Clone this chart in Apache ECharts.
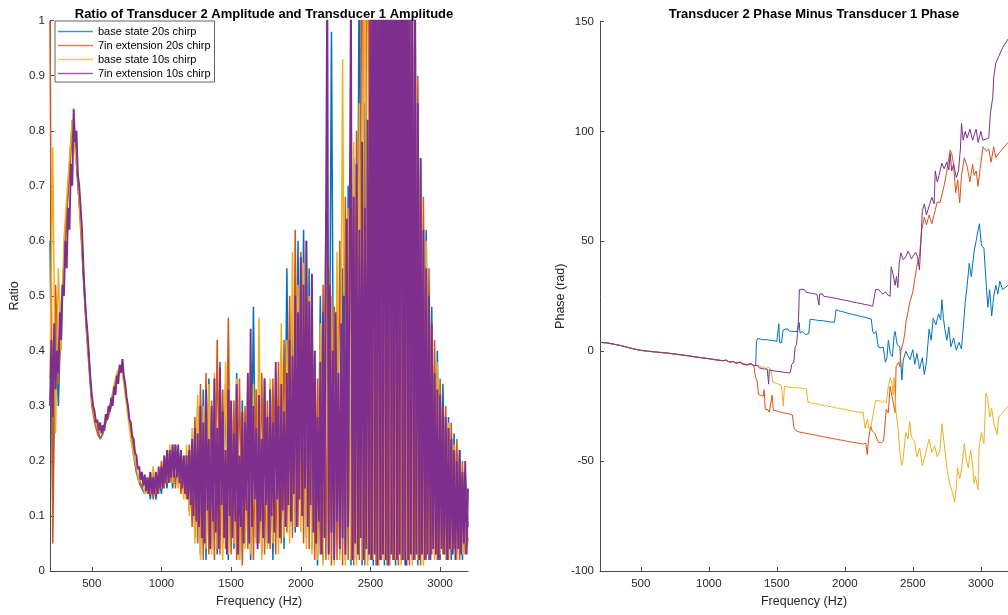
<!DOCTYPE html>
<html>
<head>
<meta charset="utf-8">
<script src="https://cdn.jsdelivr.net/npm/echarts@6/dist/echarts.min.js"></script>
<style>html,body{margin:0;padding:0;background:#fff;}#c{width:1008px;height:615px;}</style>
</head>
<body>
<div id="c"></div>
<script>
const seriesNames = ['base state 20s chirp', '7in extension 20s chirp', 'base state 10s chirp', '7in extension 10s chirp'];
const xTickValues = [500, 1000, 1500, 2000, 2500, 3000];

// Amplitude ratio samples: frequency grid start and spacing (Hz)
const ampStart = 200;
const ampStepCoarse = 20;
const ampStepFine = 10;

const ratioBase20 = [
0.60,0.12,0.45,0.30,0.48,0.56,0.64,0.74,0.82,0.78,
0.70,0.64,0.53,0.45,0.38,0.31,0.28,0.26,0.24,0.25,
0.27,0.29,0.31,0.33,0.35,0.37,0.37,0.33,0.29,0.25,
0.21,0.18,0.16,0.15,0.14,0.17,0.13,0.18,0.13,0.17,
0.14,0.20,0.15,0.22,0.15,0.23,0.16,0.22,0.14,0.21,
0.11,0.24,0.06,0.30,0.03,0.33,0.02,0.35,0.04,0.32,
0.03,0.38,0.05,0.34,0.02,0.30,0.04,0.36,0.02,0.31,
0.05,0.34,0.02,0.48,0.06,0.30,0.03,0.35,0.05,0.33,
0.02,0.36,0.06,0.40,0.04,0.55,0.08,0.45,0.07,0.60,
0.10,0.62,0.06,0.55,0.04,0.40,0.01,0.50,0.02,0.65,
0.03,0.98,0.02,0.50,0.03,0.55,0.02,0.70,0.01,0.75,
0.02,1.20,0.01,0.85,0.02,1.30,0.01,1.40,0.02,1.50,
0.01,1.60,0.02,1.40,0.01,1.50,0.02,1.30,0.01,1.40,
0.02,1.10,0.01,0.75,0.03,0.62,0.02,0.48,0.03,0.40,
0.02,0.34,0.04,0.28,0.02,0.25,0.03,0.22,0.02,0.18,
0.08];

const ratioExt20 = [
1.00,0.05,0.52,0.34,0.46,0.55,0.66,0.72,0.80,0.77,
0.71,0.62,0.54,0.44,0.37,0.30,0.27,0.25,0.24,0.25,
0.27,0.28,0.30,0.33,0.35,0.37,0.36,0.33,0.29,0.25,
0.22,0.18,0.17,0.15,0.17,0.14,0.18,0.13,0.18,0.14,
0.20,0.15,0.22,0.16,0.23,0.15,0.22,0.14,0.21,0.13,
0.23,0.08,0.28,0.05,0.34,0.02,0.36,0.03,0.31,0.02,
0.42,0.03,0.33,0.04,0.46,0.03,0.31,0.02,0.35,0.01,
0.30,0.04,0.38,0.02,0.33,0.05,0.36,0.03,0.31,0.04,
0.35,0.03,0.38,0.05,0.42,0.07,0.50,0.06,0.62,0.08,
0.58,0.05,0.60,0.04,0.48,0.02,0.35,0.03,0.52,0.02,
0.55,0.01,0.48,0.02,0.60,0.01,0.68,0.02,0.72,0.01,
0.80,0.02,1.40,0.01,1.50,0.02,1.30,0.01,1.60,0.02,
1.40,0.01,1.50,0.02,1.60,0.01,1.40,0.02,1.50,0.01,
0.99,0.02,0.90,0.01,0.68,0.02,0.55,0.03,0.42,0.02,
0.35,0.03,0.30,0.02,0.27,0.04,0.24,0.02,0.20,0.03,
0.06];

const ratioBase10 = [
0.35,0.77,0.25,0.55,0.40,0.60,0.68,0.75,0.82,0.76,
0.72,0.63,0.55,0.45,0.38,0.31,0.28,0.26,0.25,0.26,
0.28,0.29,0.31,0.34,0.36,0.37,0.36,0.32,0.28,0.24,
0.21,0.19,0.16,0.18,0.14,0.17,0.14,0.19,0.14,0.18,
0.15,0.21,0.16,0.23,0.16,0.21,0.15,0.22,0.13,0.23,
0.10,0.26,0.05,0.32,0.02,0.30,0.04,0.34,0.03,0.36,
0.04,0.32,0.02,0.38,0.03,0.30,0.05,0.35,0.02,0.29,
0.04,0.36,0.03,0.34,0.05,0.46,0.02,0.32,0.04,0.35,
0.05,0.33,0.03,0.45,0.06,0.42,0.05,0.58,0.08,0.52,
0.07,0.56,0.04,0.50,0.03,0.30,0.02,0.45,0.01,0.62,
0.02,0.50,0.01,0.58,0.02,0.93,0.01,0.66,0.02,0.78,
0.01,0.85,0.02,1.30,0.01,1.50,0.02,1.40,0.01,1.60,
0.02,1.50,0.01,1.40,0.02,1.60,0.01,1.50,0.02,1.30,
0.01,0.95,0.02,0.72,0.01,0.60,0.03,0.45,0.02,0.38,
0.03,0.30,0.02,0.27,0.04,0.23,0.02,0.20,0.03,0.16,
0.05];

const ratioExt10 = [
0.30,0.42,0.28,0.45,0.33,0.40,0.36,0.47,0.42,0.52,
0.50,0.60,0.55,0.66,0.62,0.74,0.70,0.84,0.78,0.80,
0.72,0.70,0.66,0.62,0.55,0.50,0.46,0.43,0.39,0.35,
0.32,0.30,0.29,0.27,0.275,0.255,0.27,0.25,0.265,0.255,
0.285,0.275,0.30,0.29,0.315,0.30,0.335,0.32,0.355,0.34,
0.375,0.36,0.385,0.355,0.34,0.315,0.30,0.275,0.27,0.245,
0.24,0.215,0.21,0.185,0.19,0.165,0.18,0.155,0.175,0.145,
0.17,0.14,0.18,0.14,0.17,0.14,0.18,0.14,0.19,0.15,
0.19,0.15,0.21,0.16,0.22,0.16,0.22,0.17,0.23,0.17,
0.23,0.17,0.23,0.16,0.22,0.15,0.21,0.14,0.21,0.13,
0.22,0.12,0.24,0.10,0.26,0.09,0.25,0.08,0.30,0.06,
0.27,0.05,0.33,0.11,0.24,0.04,0.30,0.09,0.35,0.07,
0.26,0.04,0.37,0.12,0.29,0.06,0.22,0.03,0.33,0.10,
0.31,0.06,0.25,0.09,0.34,0.03,0.21,0.08,0.29,0.05,
0.27,0.11,0.36,0.05,0.44,0.08,0.30,0.13,0.26,0.04,
0.32,0.09,0.24,0.06,0.35,0.12,0.28,0.05,0.33,0.10,
0.27,0.07,0.38,0.13,0.30,0.06,0.34,0.11,0.29,0.08,
0.36,0.12,0.42,0.09,0.39,0.14,0.50,0.08,0.47,0.13,
0.57,0.10,0.52,0.15,0.60,0.08,0.49,0.12,0.54,0.07,
0.40,0.05,0.28,0.09,0.38,0.03,0.47,0.06,0.58,1.10,
0.03,0.52,0.07,0.40,0.02,0.47,0.09,0.36,0.04,0.45,
0.06,0.50,0.03,0.64,0.08,0.58,1.05,0.02,0.68,0.05,
0.74,0.03,0.62,0.06,0.78,0.02,0.66,0.04,0.82,0.03,
1.30,0.02,1.40,0.03,1.50,0.01,1.30,0.02,1.60,0.03,
1.50,0.02,1.40,0.01,1.60,0.03,1.50,0.02,1.40,0.02,
1.50,0.03,1.60,0.02,1.40,0.01,1.50,0.02,1.30,0.03,
1.20,0.02,1.05,0.03,0.85,0.02,0.75,0.03,0.62,0.02,
0.55,0.03,0.50,0.02,0.45,0.04,0.36,0.03,0.33,0.02,
0.32,0.04,0.30,0.03,0.28,0.02,0.26,0.04,0.24,0.03,
0.22,0.02,0.20,0.04,0.22,0.03,0.18,0.05,0.20,0.03,
0.15];

// Phase difference [Hz, rad]
const phaseShared = [[200,4],[250,3.8],[300,3.2],[350,2.6],[400,1.8],[450,1.0],[500,0.4],[550,0],[600,-0.3],[650,-0.6],[700,-0.9],[750,-1.3],[800,-1.7],[850,-2.1],[900,-2.6],[950,-3.0],[1000,-3.4],[1050,-3.9],[1100,-4.3],[1130,-4.1],[1150,-4.9],[1180,-4.7],[1200,-5.4],[1230,-5.0],[1250,-5.8],[1280,-6.2],[1310,-5.7],[1330,-6.5]];

const phaseBase20 = [[1345,-6.3],[1350,4.5],[1360,5.8],[1370,4.9],[1380,5.5],[1390,4.6],[1400,5.2],[1410,4.4],[1420,5.3],[1430,4.7],[1440,5.1],[1450,4.3],[1460,4.9],[1470,4.2],[1480,4.8],[1490,4.0],[1500,4.4],[1505,3.5],[1515,12.5],[1520,4],[1535,3.8],[1545,9.5],[1560,10],[1570,9.3],[1580,10.2],[1590,9.2],[1600,9.9],[1610,9.1],[1620,9.8],[1630,8.9],[1640,9.4],[1650,9],[1660,9.6],[1665,13],[1670,8.5],[1680,8.2],[1690,8.8],[1700,8],[1710,7.6],[1720,7.5],[1735,8],[1745,14.5],[1755,15.2],[1765,14.4],[1775,15.1],[1785,14.2],[1795,14.8],[1805,14],[1815,14.6],[1825,13.9],[1835,14.5],[1845,13.8],[1855,14.3],[1865,13.6],[1875,14.1],[1885,13.4],[1895,13.9],[1905,13.2],[1915,13.7],[1925,13.2],[1935,18.8],[1945,19.3],[1955,18.4],[1965,18.9],[1975,18.1],[1985,18.6],[1995,17.8],[2005,18.2],[2015,17.4],[2025,17.9],[2035,17.1],[2045,17.6],[2055,16.8],[2065,17.3],[2075,16.5],[2085,17.1],[2095,16.2],[2105,16.8],[2115,15.9],[2125,16.5],[2135,15.6],[2145,16.4],[2155,15.3],[2165,16.1],[2175,14.9],[2185,15.5],[2195,14.6],[2205,9],[2215,8],[2230,9],[2245,2],[2265,1.5],[2283,1.8],[2298,-5],[2310,-3],[2320,5],[2335,-1],[2350,-2.4],[2362,7],[2370,9],[2385,3],[2405,2],[2420,-13],[2430,-4],[2449,0],[2463,-2],[2480,-3.8],[2500,0.7],[2515,-6],[2530,-1],[2550,-8],[2570,-3],[2585,-10.6],[2600,-5],[2620,10],[2635,5],[2650,15],[2670,12],[2690,17],[2705,14.3],[2714,23.4],[2725,15],[2736,10],[2750,5],[2765,11],[2780,2],[2800,6],[2820,0.5],[2840,4],[2858,1],[2870,10],[2885,22],[2900,30],[2915,40],[2930,34],[2950,45],[2965,50],[2980,55],[2990,58],[3005,48],[3023,47],[3040,30],[3052,20],[3065,28],[3080,16],[3095,25],[3110,30],[3125,26],[3140,32],[3160,28],[3200,30]];

const phaseExt20 = [[1340,-6.6],[1345,-12],[1356,-13.8],[1365,-19.7],[1375,-19],[1385,-20.1],[1395,-19.3],[1400,-20.5],[1407,-17.5],[1415,-26.5],[1425,-27.2],[1435,-26.6],[1445,-27.8],[1455,-28],[1465,-20],[1475,-27],[1493,-27],[1503,-26.3],[1513,-27.5],[1523,-26.8],[1533,-27.8],[1543,-27],[1553,-28.1],[1563,-27.3],[1573,-28.3],[1583,-27.6],[1593,-28.6],[1603,-27.9],[1615,-29],[1625,-34.7],[1637,-36],[1647,-35.4],[1657,-36.6],[1667,-35.8],[1677,-36.9],[1687,-36.1],[1697,-37.1],[1707,-36.4],[1717,-37.4],[1727,-36.6],[1737,-37.6],[1747,-36.9],[1757,-37.9],[1767,-37.1],[1777,-38.1],[1787,-37.4],[1797,-38.4],[1807,-37.7],[1817,-38.6],[1827,-37.9],[1837,-38.9],[1847,-38.2],[1857,-39.1],[1867,-38.4],[1877,-39.3],[1887,-38.6],[1897,-39.6],[1907,-38.9],[1917,-39.8],[1927,-39.1],[1937,-40],[1947,-39.4],[1957,-40.3],[1967,-39.6],[1977,-40.5],[1987,-39.8],[1997,-40.7],[2007,-40.1],[2017,-41],[2027,-40.3],[2037,-41.2],[2047,-40.5],[2057,-41.4],[2067,-40.8],[2077,-41.6],[2087,-41],[2097,-41.8],[2107,-41.2],[2117,-42],[2127,-41.4],[2137,-42.2],[2147,-41.6],[2155,-41.8],[2165,-47],[2175,-40],[2190,-34],[2200,-36],[2211,-35.5],[2222,-37.5],[2233,-37],[2247,-41.5],[2260,-40.6],[2270,-41.6],[2285,-40.8],[2298,-41.5],[2305,-26.5],[2320,-28],[2333,-16],[2345,-20],[2355,-23],[2370,-28],[2377,-7],[2395,-5],[2405,-7],[2412,0],[2430,4],[2441,8],[2449,13],[2465,18],[2477,22],[2500,27],[2515,33],[2535,40.5],[2549,43],[2565,55],[2585,61],[2600,57.5],[2620,62],[2640,58],[2664,64],[2680,68],[2700,67.5],[2729,75],[2745,80],[2760,86],[2775,91.5],[2786,90],[2800,85],[2815,72],[2830,78],[2845,67.5],[2858,80],[2879,88],[2900,84],[2920,77],[2940,85],[2951,80],[2966,82],[2980,75],[2995,83],[3016,93],[3040,91],[3059,92],[3075,86],[3095,93],[3110,88],[3131,90],[3160,92],[3200,95]];

const phaseBase10 = [[1350,-6.4],[1360,-7.2],[1375,-6.6],[1390,-7.6],[1405,-6.9],[1420,-7.9],[1440,-7.3],[1455,-8.3],[1465,-8],[1472,-14],[1493,-14.5],[1503,-14.2],[1513,-15],[1523,-14.6],[1533,-15.4],[1540,-15.5],[1548,-25],[1556,-16],[1566,-15.7],[1576,-16.3],[1586,-15.9],[1596,-16.4],[1606,-16],[1616,-16.5],[1626,-16.1],[1636,-16.6],[1646,-16.2],[1656,-16.7],[1666,-16.3],[1676,-16.8],[1686,-16.4],[1696,-16.9],[1706,-16.6],[1716,-17.1],[1723,-17],[1730,-23.3],[1745,-23.1],[1760,-23.9],[1775,-23.6],[1790,-24.1],[1805,-24.0],[1820,-24.6],[1835,-24.2],[1850,-25],[1865,-24.7],[1880,-25.2],[1895,-25.1],[1910,-25.7],[1925,-25.3],[1940,-26],[1955,-25.8],[1970,-26.4],[1985,-26.1],[2000,-26.8],[2015,-26.5],[2030,-27.1],[2045,-26.9],[2060,-27.4],[2075,-27.2],[2090,-27.8],[2105,-27.5],[2120,-28.1],[2135,-27.8],[2140,-28],[2148,-35],[2160,-34.2],[2168,-31],[2175,-35],[2190,-35],[2205,-30],[2226,-22.5],[2240,-23.4],[2260,-22.6],[2275,-23.5],[2290,-22.5],[2305,-23.5],[2320,-16],[2335,-12],[2345,-14],[2355,-20],[2362,-12],[2377,-28],[2390,-34],[2405,-46],[2418,-52],[2427,-50],[2449,-37],[2465,-40],[2477,-32],[2490,-39],[2500,-40],[2513,-41],[2530,-48],[2550,-44],[2570,-52],[2592,-47],[2620,-40],[2640,-46],[2660,-43],[2680,-48],[2700,-45],[2714,-33],[2736,-45],[2755,-55],[2770,-60],[2790,-64],[2808,-68.7],[2820,-62],[2829,-53],[2845,-58],[2858,-54],[2879,-42],[2895,-50],[2908,-53],[2925,-45],[2940,-52],[2951,-60],[2960,-57],[2980,-63],[2987,-44],[3005,-37],[3023,-42],[3038,-19],[3052,-22],[3065,-30],[3080,-26],[3100,-34],[3120,-38],[3131,-30],[3160,-28],[3200,-25]];

const phaseExt10 = [[1360,-6.6],[1370,-7.6],[1380,-6.9],[1390,-7.9],[1400,-7.2],[1410,-8.1],[1420,-7.4],[1430,-8.2],[1440,-15],[1445,-8.5],[1455,-7.9],[1465,-8.8],[1475,-8.1],[1485,-9],[1495,-8.3],[1505,-9.2],[1515,-8.5],[1525,-9.3],[1535,-8.7],[1545,-9.5],[1555,-8.9],[1565,-9.7],[1575,-9.1],[1585,-9.9],[1595,-9.3],[1600,-9.7],[1610,-6],[1625,-5],[1635,2],[1645,3],[1652,8],[1660,15],[1666,28],[1676,27.1],[1686,28.2],[1696,27.3],[1706,27.9],[1716,26.8],[1726,27.6],[1736,26.6],[1746,27.4],[1756,26.3],[1766,27.1],[1776,26.1],[1786,26.9],[1796,25.8],[1806,26.5],[1810,21],[1815,26],[1825,25.2],[1835,26.1],[1845,25],[1855,25.8],[1865,24.8],[1875,25.6],[1885,24.6],[1895,25.3],[1905,24.4],[1915,25.1],[1925,24.1],[1935,24.9],[1945,23.9],[1955,24.6],[1965,23.6],[1975,24.4],[1985,23.4],[1995,24.1],[2005,23.1],[2015,23.9],[2025,22.9],[2035,23.6],[2045,22.6],[2055,23.4],[2065,22.3],[2075,23.1],[2085,22.1],[2095,22.8],[2105,21.8],[2115,22.6],[2125,21.6],[2135,22.3],[2145,21.3],[2155,22.1],[2165,21.1],[2175,21.8],[2185,20.8],[2195,21.5],[2205,20.4],[2215,20.9],[2226,28],[2240,27.2],[2250,28],[2265,26.8],[2280,26],[2300,27],[2315,25.6],[2333,25],[2341,38.4],[2355,35],[2370,30],[2380,34],[2390,29],[2400,40],[2412,44.7],[2430,41.6],[2449,43],[2465,45.5],[2477,44],[2490,42],[2500,43],[2520,45],[2535,43],[2549,37],[2560,50],[2570,64],[2585,67],[2600,62],[2620,66],[2640,70],[2657,67],[2665,82],[2680,77],[2693,80],[2714,85.6],[2730,83],[2750,86],[2765,82.4],[2775,90],[2786,82],[2800,85],[2820,79],[2836,82],[2850,92],[2858,103.7],[2870,96],[2885,100],[2900,97],[2920,101],[2940,96],[2955,99],[2966,101],[2980,95],[3001,100],[3015,96],[3040,96.5],[3059,97],[3070,108],[3088,115.5],[3095,124.6],[3110,131],[3131,134],[3160,138],[3200,142]];

const colors = ['#0072BD', '#D95319', '#EDB120', '#7E2F8E'];

function onGrid(start, step, vals) {
  return vals.map((v, i) => [start + step * i, v]);
}

const ampData = [
  onGrid(ampStart, ampStepCoarse, ratioBase20),
  onGrid(ampStart, ampStepCoarse, ratioExt20),
  onGrid(ampStart, ampStepCoarse, ratioBase10),
  onGrid(ampStart, ampStepFine, ratioExt10)
];
const phaseData = [
  phaseShared.concat(phaseBase20),
  phaseShared.concat(phaseExt20),
  phaseShared.concat(phaseBase10),
  phaseShared.concat(phaseExt10)
];

const font = 'Liberation Sans, Arial, Helvetica, sans-serif';
const axisColor = '#4a4a4a';
const labelColor = '#262626';

function xAxisCfg(gridIndex) {
  return {
    type: 'value', gridIndex: gridIndex, min: 200, max: 3200,
    name: 'Frequency (Hz)', nameLocation: 'middle', nameGap: 22,
    nameTextStyle: { fontFamily: font, fontSize: 12.5, color: labelColor },
    axisLine: { show: true, onZero: false, lineStyle: { color: axisColor, width: 1 } },
    axisTick: { show: true, inside: true, length: 4, customValues: xTickValues, lineStyle: { color: axisColor } },
    axisLabel: { customValues: xTickValues, margin: 7, fontFamily: font, fontSize: 11.5, color: labelColor,
      formatter: v => String(v) },
    splitLine: { show: false }
  };
}

const option = {
  animation: false,
  backgroundColor: '#fff',
  color: colors,
  title: [
    { text: 'Ratio of Transducer 2 Amplitude and Transducer 1 Amplitude', left: 259, top: 3, textAlign: 'center',
      textStyle: { fontFamily: font, fontSize: 13, fontWeight: 'bold', color: '#000' } },
    { text: 'Transducer 2 Phase Minus Transducer 1 Phase', left: 809, top: 3, textAlign: 'center',
      textStyle: { fontFamily: font, fontSize: 13, fontWeight: 'bold', color: '#000' } }
  ],
  legend: {
    data: seriesNames, orient: 'vertical', left: 55, top: 21,
    padding: [5, 4, 3, 3], itemGap: 3, itemWidth: 35, itemHeight: 1.5, icon: 'rect',
    backgroundColor: '#fff', borderColor: '#3a3a3a', borderWidth: 0.8,
    textStyle: { fontFamily: font, fontSize: 11, color: '#000' },
    itemStyle: { opacity: 0.75 }
  },
  grid: [
    { left: 50, top: 20.7, width: 418, height: 550.3 },
    { left: 600, top: 21.5, width: 418, height: 549.5 }
  ],
  xAxis: [xAxisCfg(0), xAxisCfg(1)],
  yAxis: [
    { type: 'value', gridIndex: 0, min: 0, max: 1, interval: 0.1,
      name: 'Ratio', nameLocation: 'middle', nameGap: 29,
      nameTextStyle: { fontFamily: font, fontSize: 12.5, color: labelColor },
      axisLine: { show: true, lineStyle: { color: axisColor, width: 1 } },
      axisTick: { show: true, inside: true, length: 4, lineStyle: { color: axisColor } },
      axisLabel: { margin: 5, fontFamily: font, fontSize: 11.5, color: labelColor },
      splitLine: { show: false } },
    { type: 'value', gridIndex: 1, min: -100, max: 150, interval: 50,
      name: 'Phase (rad)', nameLocation: 'middle', nameGap: 29,
      nameTextStyle: { fontFamily: font, fontSize: 12.5, color: labelColor },
      axisLine: { show: true, lineStyle: { color: axisColor, width: 1 } },
      axisTick: { show: true, inside: true, length: 4, lineStyle: { color: axisColor } },
      axisLabel: { margin: 6, fontFamily: font, fontSize: 11.5, color: labelColor },
      splitLine: { show: false } }
  ],
  series: []
};

const ampWidths = [1.5, 1.5, 1.5, 1.9];
seriesNames.forEach((name, k) => {
  option.series.push({
    name: name, type: 'line', xAxisIndex: 0, yAxisIndex: 0, data: ampData[k],
    symbol: 'none', showSymbol: false, clip: true,
    lineStyle: { width: ampWidths[k], color: colors[k] }, itemStyle: { color: colors[k] }
  });
});
seriesNames.forEach((name, k) => {
  option.series.push({
    name: name, type: 'line', xAxisIndex: 1, yAxisIndex: 1, data: phaseData[k],
    symbol: 'none', showSymbol: false, clip: true,
    lineStyle: { width: 1, color: colors[k] }, itemStyle: { color: colors[k] }
  });
});

const chart = echarts.init(document.getElementById('c'), null, { renderer: 'canvas' });
chart.setOption(option);
</script>
</body>
</html>
